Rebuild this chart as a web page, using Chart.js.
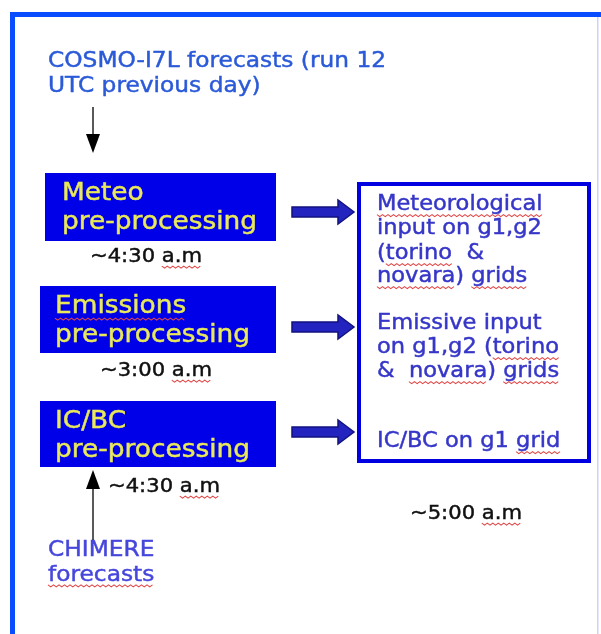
<!DOCTYPE html>
<html>
<head>
<meta charset="utf-8">
<script src="https://cdn.jsdelivr.net/npm/chart.js@4.4.1/dist/chart.umd.min.js"></script>
<style>
  html, body { margin: 0; padding: 0; background: #fff; }
  #flow { display: block; }
</style>
</head>
<body>
<canvas id="flow" width="601" height="634"></canvas>
<script>
// --- diagram content ---
const sourceTop = ['COSMO-I7L forecasts (run 12', 'UTC previous day)'];
const sourceBottom = ['CHIMERE', 'forecasts'];
const stepTitles = ['Meteo', 'Emissions', 'IC/BC'];
const stepSub = ['pre-processing', 'pre-processing', 'pre-processing'];
const stepTimes = ['~4:30 a.m', '~3:00 a.m', '~4:30 a.m'];
const outputs = [
    ['Meteorological', 'input on g1,g2', '(torino  &', 'novara) grids'],
    ['Emissive input', 'on g1,g2 (torino', '&  novara) grids'],
    ['IC/BC on g1 grid']
];
const finalTime = '~5:00 a.m';
// words the spell checker flagged (red wavy underline)
const flagged = ['a.m', 'Emissions', 'Meteorological', 'torino', 'novara', 'grids', 'grid', 'forecasts'];

// --- layout (in diagram units = pixels of the 601x634 sheet) ---
const stepBoxX = [[45, 276], [40, 276], [40, 276]];
const stepBoxY = [[173, 241], [286, 353], [401, 467]];
const stepTextX = [62, 55, 55];
const stepTimePos = [[90, 257], [100, 371], [108, 487]];
const arrowY = [212, 327, 432];
const outLineY = [[205, 229, 254, 277], [324, 348, 372], [442]];

const sx = 1.1; // text is a bit wide in the original

const ctx = document.querySelector('#flow').getContext('2d');

function drawText(c, s, x, y, size, color, spell) {
    c.save();
    c.font = size + 'px "DejaVu Sans"';
    c.textBaseline = 'middle';
    c.fillStyle = color;
    c.strokeStyle = color;
    c.lineWidth = 0.45;
    c.translate(x, y);
    c.scale(sx, 1);
    c.fillText(s, 0, 0);
    c.strokeText(s, 0, 0);
    if (spell === false) { c.restore(); return; }
    // wavy underlines
    flagged.forEach(w => {
        let i = s.indexOf(w);
        if (i < 0) return;
        // skip 'grid' inside 'grids'
        if (w === 'grid' && s.indexOf('grids') >= 0) return;
        const x0 = c.measureText(s.slice(0, i)).width;
        const x1 = x0 + c.measureText(w).width;
        c.beginPath();
        c.strokeStyle = '#e04848';
        c.lineWidth = 1;
        const yy = size * 0.42 + 1;
        for (let px = x0, k = 0; px <= x1; px += 2.5, k++) {
            const py = yy + (k % 2 ? 2 : 0);
            if (k === 0) c.moveTo(px, py); else c.lineTo(px, py);
        }
        c.stroke();
    });
    c.restore();
}

function blockArrow(c, x0, x1, y) {
    const headL = 16, shaft = 5, head = 12;
    c.beginPath();
    c.moveTo(x0, y - shaft);
    c.lineTo(x1 - headL, y - shaft);
    c.lineTo(x1 - headL, y - head);
    c.lineTo(x1, y);
    c.lineTo(x1 - headL, y + head);
    c.lineTo(x1 - headL, y + shaft);
    c.lineTo(x0, y + shaft);
    c.closePath();
    c.fillStyle = '#2323c0';
    c.fill();
    c.strokeStyle = '#121280';
    c.lineWidth = 1.5;
    c.stroke();
}

function lineArrow(c, x, yFrom, yTo) {
    const dir = yTo > yFrom ? 1 : -1;
    c.beginPath();
    c.moveTo(x, yFrom);
    c.lineTo(x, yTo - dir * 18);
    c.strokeStyle = '#222';
    c.lineWidth = 1.5;
    c.stroke();
    c.beginPath();
    c.moveTo(x, yTo);
    c.lineTo(x - 7, yTo - dir * 19);
    c.lineTo(x + 7, yTo - dir * 19);
    c.closePath();
    c.fillStyle = '#000';
    c.fill();
}

const diagramPlugin = {
    id: 'diagram',
    afterDraw(chart) {
        const c = chart.ctx;
        const X = v => chart.scales.x.getPixelForValue(v);
        const Y = v => chart.scales.y.getPixelForValue(v);

        // sheet frame
        c.save();
        c.fillStyle = '#0a4dff';
        c.fillRect(X(10), Y(12), X(601) - X(10), 5);
        c.fillRect(X(10), Y(12), 5, Y(634) - Y(12));
        c.fillStyle = '#c9d6f5';
        c.fillRect(X(597), Y(17), 1.5, Y(634) - Y(17));

        // source texts
        sourceTop.forEach((t, i) => drawText(c, t, X(48), Y(61 + i * 25), 21.2, '#2a5ad8', false));
        sourceBottom.forEach((t, i) => drawText(c, t, X(48), Y(550 + i * 25), 21.2, '#4646dc'));

        lineArrow(c, X(93), Y(107), Y(153));
        lineArrow(c, X(93), Y(540), Y(470));

        // processing steps
        stepTitles.forEach((t, i) => {
            const [xa, xb] = stepBoxX[i], [ya, yb] = stepBoxY[i];
            c.fillStyle = '#0000e8';
            c.fillRect(X(xa), Y(ya), X(xb) - X(xa), Y(yb) - Y(ya));
            drawText(c, t, X(stepTextX[i]), Y(ya + 21), 24, '#e8e85a');
            drawText(c, stepSub[i], X(stepTextX[i]), Y(ya + 50), 24, '#e8e85a');
            drawText(c, stepTimes[i], X(stepTimePos[i][0]), Y(stepTimePos[i][1]), 19.2, '#111');
            blockArrow(c, X(292), X(354), Y(arrowY[i]));
        });

        // output box
        c.strokeStyle = '#0000e0';
        c.lineWidth = 4;
        c.strokeRect(X(359), Y(184), X(589) - X(359), Y(461) - Y(184));
        outputs.forEach((grp, g) => {
            grp.forEach((t, j) => drawText(c, t, X(377), Y(outLineY[g][j]), 20.5, '#3636c8'));
        });
        drawText(c, finalTime, X(410), Y(514), 19.2, '#111');
        c.restore();
    }
};

new Chart(ctx, {
    type: 'scatter',
    data: { datasets: [{ data: [] }] },
    options: {
        responsive: false,
        animation: false,
        layout: { padding: 0 },
        plugins: { legend: { display: false }, tooltip: { enabled: false } },
        scales: {
            x: { type: 'linear', min: 0, max: 601, display: false },
            y: { type: 'linear', min: 0, max: 634, reverse: true, display: false }
        }
    },
    plugins: [diagramPlugin]
});
</script>
</body>
</html>
